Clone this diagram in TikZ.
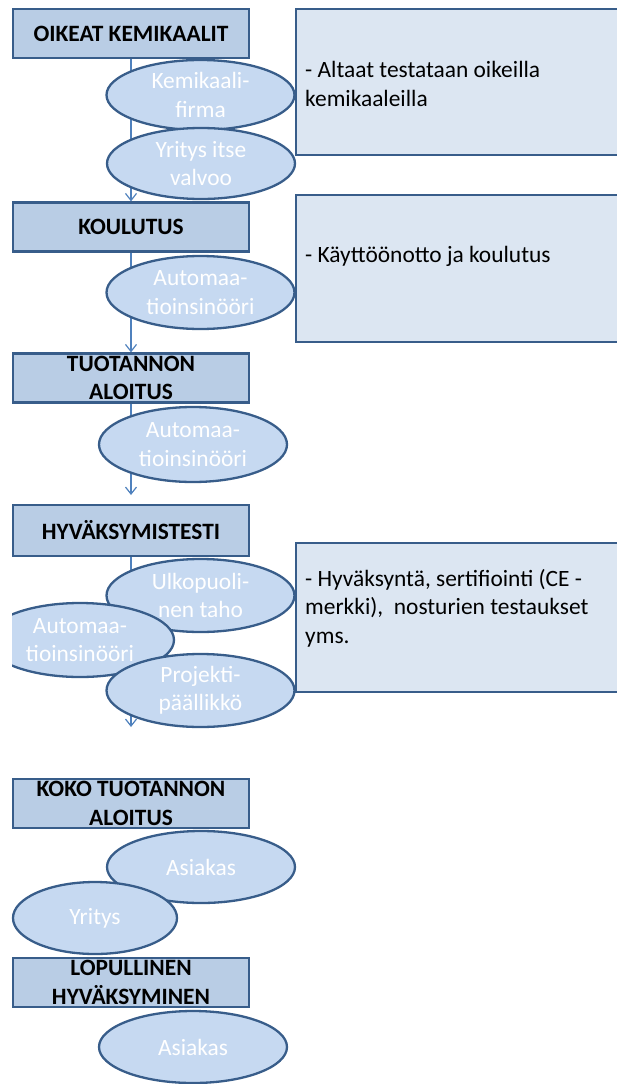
\documentclass[tikz,border=0pt]{standalone}
\usepackage{fontspec}
\setmainfont{Carlito}
\usetikzlibrary{arrows.meta,shapes.geometric}

\definecolor{edgeblue}{HTML}{385D8A}
\definecolor{stagefill}{HTML}{B9CDE5}
\definecolor{notefill}{HTML}{DCE6F2}
\definecolor{actorfill}{HTML}{C6D9F1}
\definecolor{flowblue}{HTML}{4F81BD}

\newcommand{\chartfont}{\fontsize{23.4pt}{28.5pt}\selectfont}

\tikzset{
  stage/.style={draw=edgeblue, fill=stagefill, line width=2.2pt, rectangle,
    minimum width=236pt, minimum height=49pt, inner sep=0pt},
  stagetext/.style={font=\chartfont\bfseries, align=center, inner sep=0pt, text=black},
  note/.style={draw=edgeblue, fill=notefill, line width=2.2pt, rectangle,
    minimum width=345pt, inner sep=0pt, anchor=west},
  notetext/.style={font=\chartfont, align=left, inner sep=0pt,
    anchor=west, text=black},
  actor/.style={draw=edgeblue, fill=actorfill, line width=2.3pt, ellipse,
    minimum width=188pt, minimum height=73pt, inner sep=0pt},
  actortext/.style={font=\chartfont, align=center, inner sep=0pt, text=white},
  flow/.style={draw=flowblue, line width=1.2pt, -{Straight Barb[length=7pt,width=11pt]}}
}

\begin{document}
\begin{tikzpicture}[x=1pt, y=-1pt]
\useasboundingbox (0,0) rectangle (617,1084);
\clip (0,0) rectangle (617,1084);

% stage box positions
\path (131,33.5) coordinate (p1) (131,227) coordinate (p2) (131,378) coordinate (p3)
      (131,530.5) coordinate (p4) (131,803.5) coordinate (p5) (131,982.5) coordinate (p6);
\coordinate (end3) at (131,495);
\coordinate (end4) at (131,727);

% invisible outlines so the connectors can be drawn first, behind everything
\node[stage, draw=none, fill=none] (s1) at (p1) {};
\node[stage, draw=none, fill=none] (s2) at (p2) {};
\node[stage, draw=none, fill=none] (s3) at (p3) {};
\node[stage, draw=none, fill=none] (s4) at (p4) {};
\draw[flow] (s1.south) -- (s2.north);
\draw[flow] (s2.south) -- (s3.north);
\draw[flow] (s3.south) -- (end3);
\draw[flow] (s4.south) -- (end4);

% note boxes on the right
\node[note, minimum height=146pt] (n1) at (295,82) {};
\node[notetext] (n1t) at (305,84) {- Altaat testataan oikeilla\\kemikaaleilla};
\node[note, minimum height=147pt] (n2) at (295,268.5) {};
\node[notetext] (n2t) at (305,256) {- Käyttöönotto ja koulutus};
\node[note, minimum height=149pt] (n3) at (295,617.5) {};
\node[notetext] (n3t) at (305,608) {- Hyväksyntä, sertifiointi (CE -\\merkki),\ \ nosturien testaukset\\yms.};

% stage 1
\node[stage] (b1) at (p1) {};
\node[stagetext] at (b1) {OIKEAT KEMIKAALIT};
\node[actor, minimum height=70pt] (e1) at (200.5,95) {};
\node[actortext] at (e1) {Kemikaali-\\firma};
\node[actor, minimum height=71pt] (e2) at (201,163.5) {};
\node[actortext] at (e2) {Yritys itse\\valvoo};

% stage 2
\node[stage] (b2) at (p2) {};
\node[stagetext] at (b2) {KOULUTUS};
\node[actor] (e3) at (200.5,292.5) {};
\node[actortext] at (e3) {Automaa-\\tioinsinööri};

% stage 3
\node[stage] (b3) at (p3) {};
\node[stagetext] at (b3) {TUOTANNON\\ALOITUS};
\node[actor, minimum height=75pt] (e4) at (193,444.5) {};
\node[actortext] at (e4) {Automaa-\\tioinsinööri};

% stage 4
\node[stage, minimum height=51pt] (b4) at (p4) {};
\node[stagetext] at (b4) {HYVÄKSYMISTESTI};
\node[actor] (e5) at (200.5,595.5) {};
\node[actortext] at (e5) {Ulkopuoli-\\nen taho};
\begin{scope}
  \clip (12,0) rectangle (617,1084);
  \node[actor, minimum height=74pt] (e6) at (80,640) {};
\end{scope}
\node[actortext] at (e6) {Automaa-\\tioinsinööri};
\node[actor] (e7) at (200.5,690.5) {};
\node[actortext] at (e7) {Projekti-\\päällikkö};

% stage 5
\node[stage] (b5) at (p5) {};
\node[stagetext] at (b5) {KOKO TUOTANNON\\ALOITUS};
\node[actor, minimum height=72pt] (e8) at (201,867) {};
\node[actortext] at (e8) {Asiakas};
\node[actor, minimum width=164pt, minimum height=72pt] (e9) at (95,918) {};
\node[actortext] at (e9) {Yritys};

% stage 6
\node[stage] (b6) at (p6) {};
\node[stagetext] at (b6) {LOPULLINEN\\HYVÄKSYMINEN};
\node[actor, minimum height=72pt] (e10) at (193,1047) {};
\node[actortext] at (e10) {Asiakas};
\end{tikzpicture}
\end{document}
